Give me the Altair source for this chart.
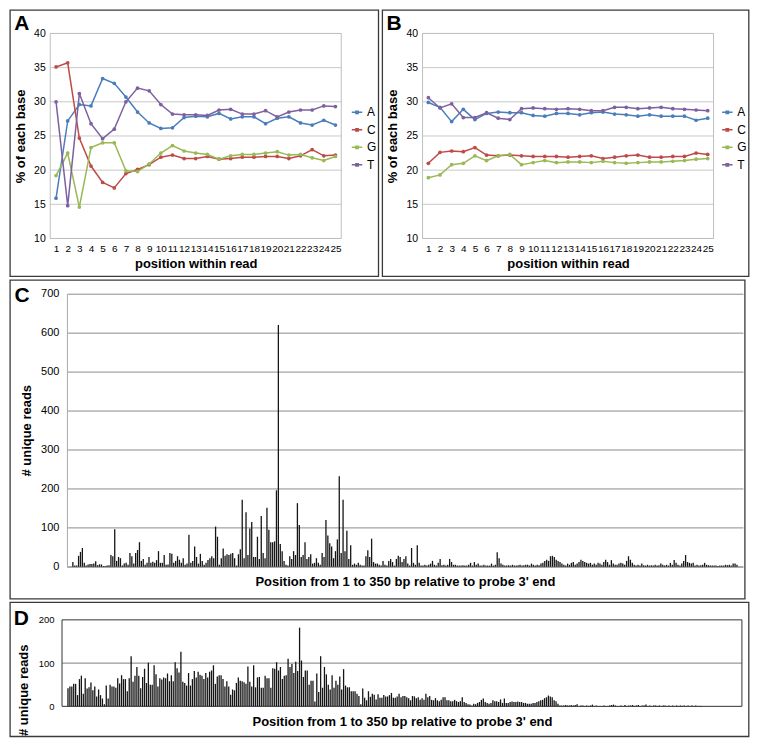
import altair as alt
import pandas as pd

FONT = "Liberation Sans"

# ---------------- data ----------------
positions_ab = list(range(1, 26))
bases = ["A", "C", "G", "T"]
base_colors = ["#4A7EBB", "#BE4B48", "#98B954", "#7D60A0"]
y_ticks_ab = [10, 15, 20, 25, 30, 35, 40]

# Panel A: % of each base per position
a_A = [15.9, 27.2, 29.6, 29.4, 33.4, 32.7, 30.7, 28.5, 26.9, 26.1, 26.2, 27.7, 27.9,
       27.8, 28.3, 27.5, 27.8, 27.8, 26.8, 27.6, 27.8, 26.9, 26.6, 27.3, 26.6]
a_C = [35.1, 35.7, 24.7, 20.6, 18.2, 17.4, 19.5, 20.1, 20.8, 21.9, 22.2, 21.7, 21.7,
       22.0, 21.6, 21.7, 21.9, 21.9, 22.0, 22.0, 21.7, 22.1, 23.0, 22.1, 22.2]
a_G = [19.2, 22.5, 14.6, 23.3, 24.0, 24.0, 19.9, 19.8, 20.9, 22.5, 23.6, 22.8, 22.5,
       22.3, 21.6, 22.1, 22.3, 22.3, 22.5, 22.7, 22.2, 22.3, 21.8, 21.4, 22.0]
a_T = [30.0, 14.8, 31.2, 26.8, 24.6, 26.0, 30.0, 32.0, 31.6, 29.6, 28.2, 28.1, 28.1,
       28.0, 28.8, 28.9, 28.2, 28.2, 28.7, 27.8, 28.5, 28.8, 28.8, 29.4, 29.3]

# Panel B
b_A = [29.9, 29.2, 27.1, 28.9, 27.4, 28.3, 28.5, 28.4, 28.4, 28.0, 27.9, 28.3, 28.3,
       28.1, 28.4, 28.5, 28.2, 28.1, 27.9, 28.1, 27.9, 27.9, 27.9, 27.3, 27.6]
b_C = [21.0, 22.6, 22.8, 22.7, 23.3, 22.2, 22.1, 22.2, 22.1, 22.0, 22.0, 22.0, 21.9,
       22.0, 22.1, 21.7, 21.9, 22.1, 22.2, 21.9, 21.9, 22.0, 22.0, 22.5, 22.3]
b_G = [18.9, 19.3, 20.8, 21.0, 22.1, 21.4, 22.1, 22.3, 20.8, 21.1, 21.4, 21.1, 21.2,
       21.2, 21.1, 21.3, 21.1, 21.0, 21.1, 21.2, 21.2, 21.3, 21.4, 21.6, 21.7]
b_T = [30.6, 29.1, 29.7, 27.7, 27.7, 28.4, 27.6, 27.4, 29.0, 29.1, 29.0, 28.9, 29.0,
       28.9, 28.7, 28.7, 29.2, 29.2, 29.0, 29.1, 29.2, 29.0, 28.9, 28.8, 28.7]

# Panel C: unique reads per position 1..350
c_reads = [
    12, 3, 3, 28, 38, 48, 10, 3, 6, 7, 7, 8, 14, 4, 6, 6, 2, 2, 3, 4,
    30, 27, 96, 15, 25, 22, 3, 8, 10, 5, 35, 27, 8, 35, 43, 63, 15, 20, 5, 10,
    25, 10, 13, 10, 17, 40, 10, 10, 30, 5, 6, 35, 33, 10, 15, 27, 18, 10, 22, 5,
    8, 82, 10, 15, 52, 25, 8, 33, 15, 5, 10, 17, 22, 27, 22, 103, 77, 5, 22, 47,
    28, 32, 30, 33, 35, 22, 3, 32, 45, 172, 22, 140, 30, 98, 115, 25, 25, 77, 20, 130,
    35, 22, 151, 95, 63, 63, 65, 196, 620, 58, 40, 15, 5, 3, 27, 20, 40, 30, 163, 107,
    25, 30, 63, 20, 25, 32, 8, 10, 22, 10, 5, 35, 25, 120, 80, 60, 52, 22, 40, 70,
    232, 35, 172, 40, 92, 20, 55, 5, 8, 5, 10, 5, 3, 3, 27, 42, 25, 72, 12, 8,
    8, 5, 3, 15, 5, 3, 15, 20, 12, 3, 20, 28, 25, 12, 20, 27, 8, 3, 48, 10,
    5, 55, 10, 3, 3, 5, 3, 5, 8, 15, 5, 3, 10, 20, 4, 5, 3, 5, 20, 12,
    5, 5, 3, 3, 3, 4, 3, 3, 5, 10, 3, 12, 5, 8, 3, 3, 5, 3, 3, 3,
    8, 3, 5, 37, 22, 8, 5, 3, 3, 4, 3, 5, 3, 3, 4, 5, 3, 4, 5, 5,
    3, 8, 5, 3, 5, 4, 8, 10, 15, 18, 15, 27, 28, 25, 18, 15, 12, 8, 5, 3,
    8, 5, 10, 12, 5, 8, 12, 18, 15, 12, 10, 8, 10, 5, 8, 5, 10, 8, 5, 12,
    18, 12, 5, 17, 8, 5, 5, 8, 10, 8, 5, 15, 27, 18, 10, 5, 3, 5, 3, 8,
    4, 3, 5, 3, 4, 3, 5, 3, 4, 8, 5, 3, 5, 3, 10, 5, 17, 10, 5, 3,
    8, 15, 30, 12, 10, 8, 10, 3, 5, 3, 4, 5, 10, 5, 4, 3, 3, 3, 3, 2,
    3, 3, 3, 5, 4, 5, 3, 8, 8, 5,
]

# Panel D: unique reads per position 1..350
d_reads = [
    42, 46, 46, 52, 52, 26, 63, 71, 29, 65, 41, 44, 55, 37, 46, 23, 39, 26, 18, 5,
    48, 18, 50, 46, 46, 43, 65, 53, 72, 63, 63, 35, 65, 116, 57, 71, 91, 71, 42, 68,
    87, 54, 101, 50, 50, 95, 74, 46, 65, 62, 67, 65, 76, 58, 72, 58, 102, 88, 78, 126,
    57, 54, 48, 77, 48, 63, 82, 67, 80, 73, 71, 63, 77, 67, 80, 83, 95, 52, 69, 72,
    72, 63, 46, 58, 46, 27, 39, 37, 54, 67, 59, 58, 56, 52, 92, 57, 46, 95, 44, 67,
    68, 43, 43, 71, 65, 65, 43, 88, 87, 102, 83, 91, 63, 71, 72, 110, 91, 98, 77, 103,
    82, 182, 106, 68, 83, 83, 50, 59, 59, 11, 76, 33, 116, 43, 91, 74, 50, 39, 72, 43,
    59, 50, 69, 39, 86, 48, 44, 44, 35, 35, 35, 29, 24, 5, 41, 20, 14, 35, 22, 29,
    27, 16, 28, 20, 20, 26, 23, 23, 26, 31, 20, 20,
    23, 29, 21, 24, 24, 21, 19, 14, 24, 23, 19, 21, 15, 19, 15, 29, 21, 24, 15, 14,
    19, 14, 12, 15, 21, 21, 14, 14, 12, 12, 15, 12, 10, 12, 21, 10, 8, 5, 4, 2,
    6, 5, 8, 10, 15, 18, 10, 8, 6, 8, 14, 12, 12, 10, 16, 8, 18, 8, 8, 10,
    11, 10, 10, 11, 10, 10, 8, 8, 6, 6, 6, 8, 8, 10, 12, 14, 15, 19, 21, 25,
    23, 21, 14, 12, 6, 2, 2, 2, 3, 2, 2, 3, 2, 3, 5, 1, 2, 2, 1, 2,
    1, 2, 4, 1, 2, 1, 1, 1, 2, 1, 1, 2, 3, 4, 2, 1, 1, 2, 1, 3,
    1, 2, 2, 3, 1, 2, 3, 1, 2, 2, 4, 1, 2, 1, 2, 2, 1, 2, 1, 2,
    2, 1, 2, 1, 2, 1, 2, 1, 2, 1, 2, 1, 2, 1, 2, 1, 2,
    1, 1, 1, 0, 0, 0, 0, 0, 0, 0, 0, 0, 0, 0, 0, 0, 0, 0, 0, 0, 0,
]
positions_cd = list(range(1, len(c_reads) + 1))
d_grid = [100]

x_title_cd = "Position from 1 to 350 bp relative to probe 3' end"

LEGEND_PATH = "M-1,0L1,0M-0.22,-0.22L0.22,-0.22L0.22,0.22L-0.22,0.22Z"
ONE = pd.DataFrame({"k": [0]})

# ---------------- geometry (pixels, relative to each row's view origin) -------------
AB_H = 205.3          # plot height of panels A/B
A_X = [-16.7, 274.7]  # A plot horizontal extent
B_X = [356.1, 647.5]  # B plot horizontal extent
D_X = [-4.9, 675.9]   # D plot horizontal extent


def box(x1, x2, y1, y2, color, width):
    return alt.Chart(ONE).mark_rect(
        fill="transparent", stroke=color, strokeWidth=width
    ).encode(x=alt.value(x1), x2=alt.value(x2), y=alt.value(y1), y2=alt.value(y2))


def letter(txt, x, y):
    return alt.Chart(ONE).mark_text(
        text=txt, font=FONT, fontSize=21, fontWeight="bold", align="center",
        baseline="alphabetic", color="black"
    ).encode(x=alt.value(x), y=alt.value(y))


def grid_rules(values, x_ext, scale, color):
    return alt.Chart(pd.DataFrame({"v": values})).mark_rule(
        color=color, strokeWidth=1
    ).encode(y=alt.Y("v:Q", scale=scale, axis=None),
             x=alt.value(x_ext[0]), x2=alt.value(x_ext[1]))


ab_yscale = alt.Scale(domain=[10, 40], nice=False, zero=False, range=[AB_H, 0])


def lines_layer(series, x_ext, legend_x):
    rows = []
    for b, vals in zip(bases, series):
        for p, v in zip(positions_ab, vals):
            rows.append({"pos": p, "base": b, "pct": v})
    df = pd.DataFrame(rows)
    return alt.Chart(df).mark_line(
        strokeWidth=1.5,
        point=alt.OverlayMarkDef(filled=True, size=14, shape="circle"),
    ).encode(
        x=alt.X("pos:O", scale=alt.Scale(type="point", padding=0.5, range=x_ext),
                axis=alt.Axis(orient="bottom", labelAngle=0, labelFontSize=10,
                              ticks=False, domain=False,
                              labelPadding=5, title="position within read",
                              titleFontSize=13, titleFontWeight="bold", titlePadding=4,
                              offset=-1.8)),
        y=alt.Y("pct:Q", scale=ab_yscale,
                axis=alt.Axis(orient="left", values=y_ticks_ab, grid=False,
                              domain=False, ticks=False,
                              labelFontSize=10.5, labelPadding=5,
                              title="% of each base", titleFontSize=13,
                              titleFontWeight="bold", titlePadding=6,
                              offset=-x_ext[0])),
        color=alt.Color("base:N", scale=alt.Scale(domain=bases, range=base_colors),
                        legend=alt.Legend(orient="none", legendX=legend_x, legendY=73,
                                          title=None, symbolType=LEGEND_PATH,
                                          symbolSize=110, symbolStrokeWidth=1.5,
                                          labelFontSize=12, rowPadding=5.5,
                                          labelOffset=4)),
        order="pos:O",
    )


row_ab = alt.layer(
    box(-56.9, 312.0, -23.4, 243.2, "#3a3a3a", 1.3),
    box(315.9, 682.8, -23.4, 243.2, "#3a3a3a", 1.3),
    grid_rules(y_ticks_ab, A_X, ab_yscale, "#C8C8C8"),
    grid_rules(y_ticks_ab, B_X, ab_yscale, "#C8C8C8"),
    box(A_X[0], A_X[1], 0, AB_H, "#BFBFBF", 1),
    box(B_X[0], B_X[1], 0, AB_H, "#BFBFBF", 1),
    letter("A", -45.1, -3),
    letter("B", 327.7, -3),
    lines_layer([a_A, a_C, a_G, a_T], A_X, 284.5),
    lines_layer([b_A, b_C, b_G, b_T], B_X, 655.3),
).resolve_scale(x="independent", color="independent").resolve_axis(
    x="independent", y="independent"
).resolve_legend(color="independent").properties(
    width=647.5, height=207.1, view=alt.ViewBackground(stroke="transparent")
)

df_c = pd.DataFrame({"pos": positions_cd, "reads": c_reads})
bars_c = alt.Chart(df_c).mark_bar(size=1.3, color="#151515").encode(
    x=alt.X("pos:Q", scale=alt.Scale(domain=[0.5, 350.5], nice=False, zero=False),
            axis=alt.Axis(labels=False, ticks=False, grid=False, domainColor="#9A9A9A",
                          title=x_title_cd, titleFontSize=13, titleFontWeight="bold",
                          titlePadding=9)),
    y=alt.Y("reads:Q", scale=alt.Scale(domain=[0, 700], nice=False),
            axis=alt.Axis(values=[0, 100, 200, 300, 400, 500, 600, 700], grid=True,
                          gridColor="#8C8C8C", domainColor="#A8A8A8", ticks=False,
                          labelFontSize=11, labelPadding=8, title="# unique reads",
                          titleFontSize=13, titleFontWeight="bold", titlePadding=7)),
)
panel_c = alt.layer(
    box(-56.9, 678.9, -13.6, 305.6, "#3a3a3a", 1.3), letter("C", -45, 8), bars_c
).properties(width=676.9, height=273.4,
             view=alt.ViewBackground(stroke="transparent"))

d_yscale = alt.Scale(domain=[0, 200], nice=False)
df_d = pd.DataFrame({"pos": positions_cd, "reads": d_reads})
bars_d = alt.Chart(df_d).mark_bar(size=1.3, color="#151515").encode(
    x=alt.X("pos:Q", scale=alt.Scale(domain=[0.5, 350.5], nice=False, zero=False,
                                     range=D_X),
            axis=alt.Axis(orient="bottom", labels=False, ticks=False, grid=False,
                          domain=False, title=x_title_cd, titleFontSize=13,
                          titleFontWeight="bold", titlePadding=9)),
    y=alt.Y("reads:Q", scale=d_yscale,
            axis=alt.Axis(orient="left", values=[0, 100, 200], grid=False,
                          domain=False, ticks=False,
                          labelFontSize=9.5, labelPadding=8, offset=-D_X[0],
                          title="# unique reads", titleFontSize=13,
                          titleFontWeight="bold", titlePadding=8, titleY=70)),
)
panel_d = alt.layer(
    box(-56.9, 682.8, -17.5, 116.8, "#3a3a3a", 1.3),
    grid_rules(d_grid, D_X, d_yscale, "#808080"),
    box(D_X[0], D_X[1], 0, 86.6, "#333333", 1),
    letter("D", -45.6, 5),
    bars_d,
).resolve_axis(y="independent").properties(
    width=675.9, height=86.6, view=alt.ViewBackground(stroke="transparent")
)

chart = alt.vconcat(row_ab, panel_c, panel_d, spacing=52.6, bounds="flush").properties(
    padding=0
).configure(font=FONT).configure_axis(
    labelFont=FONT, titleFont=FONT, labelColor="black", titleColor="black"
).configure_legend(labelFont=FONT, labelColor="black")

chart.save("out.html", embed_options={"renderer": "svg", "actions": False})
